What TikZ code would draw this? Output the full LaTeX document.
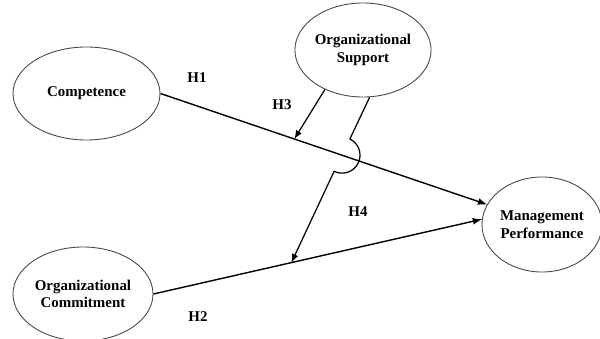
\documentclass[tikz,border=0pt]{standalone}
\usepackage{fontspec}
\setmainfont{Liberation Serif}
\usepackage{tikz}
\usetikzlibrary{calc, arrows, shapes}
\tikzset{>=latex}
\definecolor{mygray}{RGB}{70, 70, 70}
\tikzset{construct/.style = {ellipse, draw = mygray, line width = 0.5pt, align = center, inner sep = 0pt, font = \fontsize{8.5}{10}\selectfont\bfseries},
hyp/.style = {font = \fontsize{8.5}{10}\selectfont\bfseries}}

\begin{document}
\begin{tikzpicture}
\useasboundingbox (0,0) rectangle (12,6.78);
\node[construct, minimum width = 2.94cm, minimum height = 1.86cm] (comp) at (1.73, 4.91) {Competence};
\node[construct, minimum width = 2.64cm, minimum height = 1.88cm] (os) at (7.26, 5.78) {Organizational\\Support};
\node[construct, minimum width = 2.4cm, minimum height = 1.9cm] (mp) at (10.84, 2.29) {Management\\Performance};
\node[construct, minimum width = 2.8cm, minimum height = 1.88cm] (oc) at (1.66, 0.9) {Organizational\\Commitment};
\coordinate (h3end) at ($(comp.east)!0.41!(mp.160)$);
\coordinate (h4end) at ($(oc.east)!0.42!(mp.175)$);
\coordinate (hop) at (intersection of os.278--h4end and comp.east--mp.160);
\coordinate (hopa) at ($(hop)!0.36cm!(os.278)$);
\draw[->, line width = 0.8pt] (comp.east) -- (mp.160);
\draw[->, line width = 0.8pt] (oc.east) -- (mp.175);
\draw[->, line width = 0.7pt] (os.226) -- (h3end);
\draw[->, line width = 0.7pt] (os.278) -- (hopa) arc [start angle = 64, end angle = -116, radius = 0.36cm] -- (h4end);
\node[hyp] (h1) at (3.94, 5.22) {H1};
\node[hyp] (h3) at (5.64, 4.68) {H3};
\node[hyp] (h4) at (7.16, 2.54) {H4};
\node[hyp] (h2) at (3.96, 0.44) {H2};
\end{tikzpicture}
\end{document}
